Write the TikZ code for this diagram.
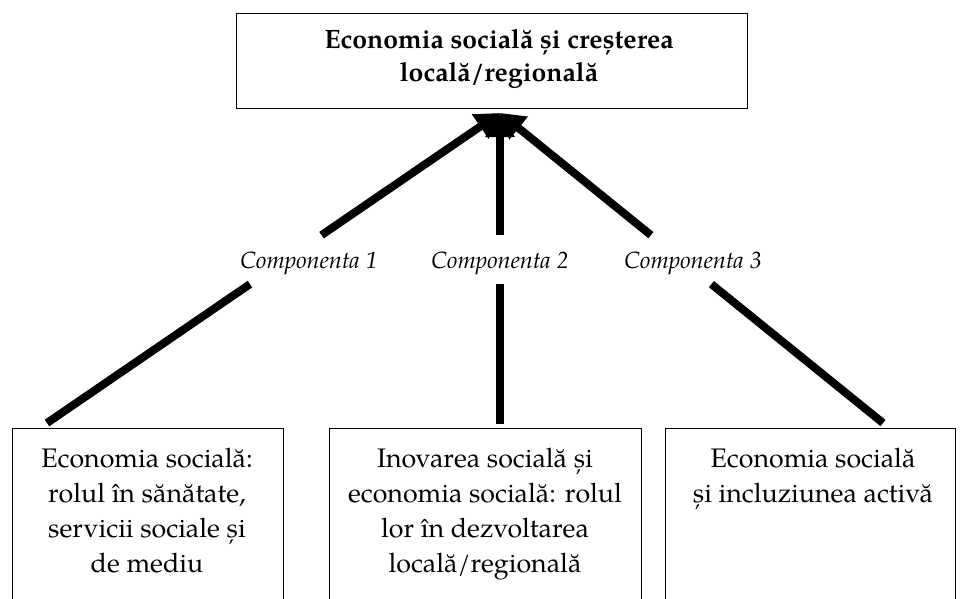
\documentclass[tikz,border=0pt]{standalone}
\usepackage{fontspec}
\setmainfont{texgyrepagella}[Extension=.otf, UprightFont=*-regular, BoldFont=*-bold, ItalicFont=*-italic, BoldItalicFont=*-bolditalic]
\usetikzlibrary{arrows.meta,calc}

\begin{document}
\begin{tikzpicture}[x=1pt,y=-1pt,
  box/.style={draw, line width=1.4pt, inner sep=0pt, anchor=north west},
  bodytext/.style={font=\fontsize{26.8}{35}\selectfont, align=center, anchor=north, inner sep=0pt},
  headtext/.style={font=\fontsize{26.6}{33}\selectfont\bfseries, align=center, anchor=north, inner sep=0pt},
  comptext/.style={font=\fontsize{23.5}{26}\selectfont\itshape, anchor=base, inner sep=0pt},
  link/.style={line width=8pt},
  linkarrow/.style={line width=8pt, -{Triangle[length=24pt,width=28pt]}}]
\clip (0,0) rectangle (963,598);
\fill[white] (0,0) rectangle (963,598);

% boxes
\node[box, minimum width=511pt, minimum height=95pt] (goal) at (236,13) {};
\node[box, minimum width=271pt, minimum height=200pt] (b1) at (12,428) {};
\node[box, minimum width=312pt, minimum height=200pt] (b2) at (329,428) {};
\node[box, minimum width=290pt, minimum height=200pt] (b3) at (665,428) {};

% texts
\node[headtext] (goaltext) at (499,29.5) {Economia socială și creșterea\\ locală/regională};
\node[bodytext] (t1) at (147,448) {Economia socială:\\ rolul în sănătate,\\ servicii sociale și\\ de mediu};
\node[bodytext] (t2) at (485,448) {Inovarea socială și\\ economia socială: rolul\\ lor în dezvoltarea\\ locală/regională};
\node[bodytext] (t3) at (813,448) {Economia socială\\ și incluziunea activă};

% connector end points
\coordinate (tip) at (500,113);
\coordinate (e1) at (47,423);
\coordinate (e2) at (500,424);
\coordinate (e3) at (883,423);

% component labels
\node[comptext] (c1) at (309,268) {Componenta 1};
\node[comptext] (c2) at (500,268) {Componenta 2};
\node[comptext] (c3) at (693,268) {Componenta 3};

% connectors, interrupted by the labels
\draw[link] (e1) -- ($(e1)!0.448!(tip)$);
\draw[linkarrow] ($(e1)!0.606!(tip)$) -- (tip);
\draw[link] (e2) -- ($(e2)!0.450!(tip)$);
\draw[linkarrow] ($(e2)!0.608!(tip)$) -- (tip);
\draw[link] (e3) -- ($(e3)!0.448!(tip)$);
\draw[linkarrow] ($(e3)!0.606!(tip)$) -- (tip);
\end{tikzpicture}
\end{document}
